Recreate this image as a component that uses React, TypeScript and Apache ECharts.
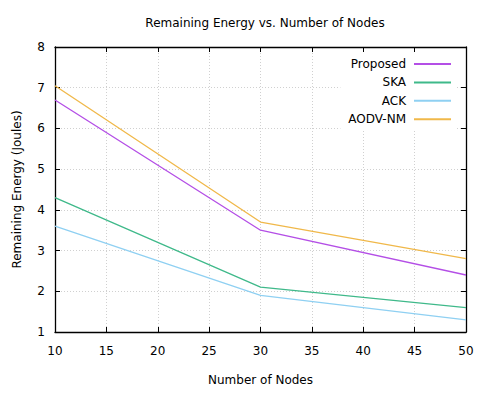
import React, { useEffect, useRef } from "react";
import * as echarts from "echarts";

const nodes = [10, 30, 50];
const proposed = [6.7, 3.5, 2.4];
const ska = [4.3, 2.1, 1.6];
const ack = [3.6, 1.9, 1.3];
const aodvNm = [7.05, 3.7, 2.8];
const seriesNames = ["Proposed", "SKA", "ACK", "AODV-NM"];
const colors = ["#b44fe6", "#3fb98a", "#8fd0f2", "#f0b84a"];

const FONT = "DejaVu Sans";

export default function App() {
  const ref = useRef<HTMLDivElement>(null);
  useEffect(() => {
    if (!ref.current) return;
    const chart = echarts.init(ref.current, undefined, { renderer: "svg" });
    const values = [proposed, ska, ack, aodvNm];
    const gridLine = { show: true, lineStyle: { color: "#d0d0d0", type: [1, 2] as any, width: 1 } };
    chart.setOption({
      animation: false,
      backgroundColor: "#fff",
      textStyle: { fontFamily: FONT },
      title: {
        text: "Remaining Energy vs. Number of Nodes",
        left: 260,
        textAlign: "center",
        top: 12,
        textStyle: { fontFamily: FONT, fontSize: 12, fontWeight: "normal", color: "#000" },
      },
      legend: {
        orient: "vertical",
        right: 23,
        top: 53,
        align: "right",
        icon: "rect",
        itemWidth: 37,
        itemHeight: 2,
        itemGap: 4.4,
        padding: [4, 6, 4, 8],
        backgroundColor: "#fff",
        data: seriesNames,
        textStyle: { fontFamily: FONT, fontSize: 12, lineHeight: 14, color: "#000", padding: [0, 3, 0, 0] },
      },
      grid: { left: 55, right: 14, top: 47, bottom: 62 },
      xAxis: [
        {
          type: "value",
          min: 10,
          max: 50,
          interval: 5,
          name: "Number of Nodes",
          nameLocation: "middle",
          nameGap: 42,
          nameTextStyle: { fontFamily: FONT, fontSize: 12, color: "#000" },
          axisLine: { show: true, lineStyle: { color: "#000", width: 1.3 } },
          axisTick: { show: true, inside: true, length: 5, lineStyle: { color: "#000" } },
          axisLabel: { margin: 13, fontFamily: FONT, fontSize: 12, color: "#000" },
          splitLine: gridLine,
        },
        {
          type: "value",
          position: "top",
          min: 10,
          max: 50,
          interval: 5,
          axisLine: { show: true, lineStyle: { color: "#000", width: 1.3 } },
          axisTick: { show: true, inside: true, length: 5, lineStyle: { color: "#000" } },
          axisLabel: { show: false },
          splitLine: { show: false },
        },
      ],
      yAxis: [
        {
          type: "value",
          min: 1,
          max: 8,
          interval: 1,
          name: "Remaining Energy (Joules)",
          nameLocation: "middle",
          nameGap: 32,
          nameTextStyle: { fontFamily: FONT, fontSize: 12, color: "#000" },
          axisLine: { show: true, lineStyle: { color: "#000", width: 1.3 } },
          axisTick: { show: true, inside: true, length: 5, lineStyle: { color: "#000" } },
          axisLabel: { margin: 10, fontFamily: FONT, fontSize: 12, color: "#000" },
          splitLine: gridLine,
        },
        {
          type: "value",
          position: "right",
          min: 1,
          max: 8,
          interval: 1,
          axisLine: { show: true, lineStyle: { color: "#000", width: 1.3 } },
          axisTick: { show: true, inside: true, length: 5, lineStyle: { color: "#000" } },
          axisLabel: { show: false },
          splitLine: { show: false },
        },
      ],
      series: seriesNames.map((name, i) => ({
        name,
        type: "line",
        xAxisIndex: 0,
        yAxisIndex: 0,
        symbol: "none",
        color: colors[i],
        lineStyle: { color: colors[i], width: 1.3 },
        data: nodes.map((n, j) => [n, values[i][j]]),
        z: 3,
      })),
    });
    return () => chart.dispose();
  }, []);
  return (
    <div
      ref={ref}
      style={{ position: "fixed", left: 0, top: 0, width: 480, height: 394 }}
    />
  );
}
